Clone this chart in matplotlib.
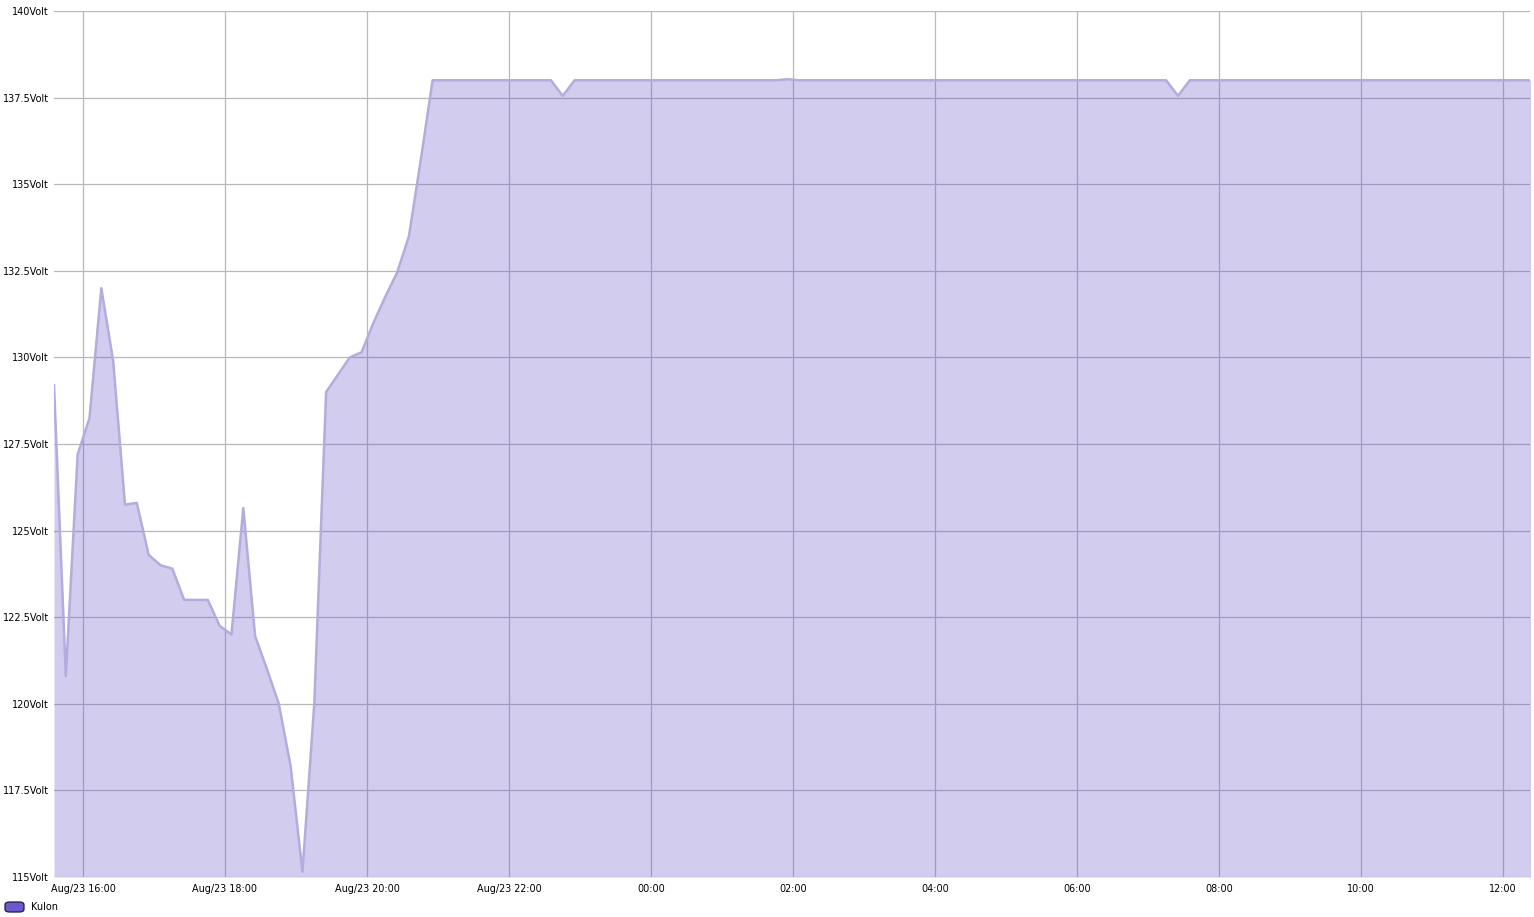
import pandas as pd
import numpy as np
import matplotlib
matplotlib.use('Agg')
import matplotlib.pyplot as plt
from matplotlib.patches import FancyBboxPatch

# 電壓讀數 (每10分鐘一筆)
volts = [
    129.2, 120.8, 127.2, 128.25, 132.0, 129.9, 125.75, 125.8, 124.3, 124.0,
    123.9, 123.0, 123.0, 123.0, 122.25, 122.0, 125.65, 121.95, 121.0, 120.0,
    118.2, 115.15, 120.0, 129.0, 129.5, 130.0, 130.15, 131.0, 131.75, 132.45,
    133.5, 135.7, 138.0, 138.0, 138.0, 138.0, 138.0, 138.0, 138.0, 138.0,
    138.0, 138.0, 138.0, 137.55, 138.0, 138.0, 138.0, 138.0, 138.0, 138.0,
    138.0, 138.0, 138.0, 138.0, 138.0, 138.0, 138.0, 138.0, 138.0, 138.0,
    138.0, 138.0, 138.03, 138.0, 138.0, 138.0, 138.0, 138.0, 138.0, 138.0,
    138.0, 138.0, 138.0, 138.0, 138.0, 138.0, 138.0, 138.0, 138.0, 138.0,
    138.0, 138.0, 138.0, 138.0, 138.0, 138.0, 138.0, 138.0, 138.0, 138.0,
    138.0, 138.0, 138.0, 138.0, 138.0, 137.55, 138.0, 138.0, 138.0, 138.0,
    138.0, 138.0, 138.0, 138.0, 138.0, 138.0, 138.0, 138.0, 138.0, 138.0,
    138.0, 138.0, 138.0, 138.0, 138.0, 138.0, 138.0, 138.0, 138.0, 138.0,
    138.0, 138.0, 138.0, 138.0, 138.0, 138.0,
]
times = pd.date_range('2023-08-23 15:35:30', periods=len(volts), freq='10min')

y_ticks = [115, 117.5, 120, 122.5, 125, 127.5, 130, 132.5, 135, 137.5, 140]
y_labels = ['115Volt', '117.5Volt', '120Volt', '122.5Volt', '125Volt', '127.5Volt',
            '130Volt', '132.5Volt', '135Volt', '137.5Volt', '140Volt']
x_ticks = pd.date_range('2023-08-23 16:00', '2023-08-24 12:00', freq='2h')
x_labels = ['Aug/23 16:00', 'Aug/23 18:00', 'Aug/23 20:00', 'Aug/23 22:00',
            '00:00', '02:00', '04:00', '06:00', '08:00', '10:00', '12:00']
series_name = 'Kulon'

W, H = 1534, 917
fig = plt.figure(figsize=(W / 100, H / 100), dpi=100)
ax = fig.add_axes([54 / W, 40 / H, (1530 - 54) / W, (877 - 11) / H])

ax.fill_between(times, volts, 115, color='#6a5acd', alpha=0.3, linewidth=0, zorder=1)
ax.plot(times, volts, color='#b3acdc', linewidth=1.8, zorder=3)

ax.set_xlim(pd.Timestamp('2023-08-23 15:35:30'), pd.Timestamp('2023-08-24 12:23:00'))
ax.set_ylim(115, 140)
ax.set_yticks(y_ticks)
ax.set_yticklabels(y_labels)
ax.set_xticks(x_ticks)
ax.set_xticklabels(x_labels)
ax.tick_params(axis='x', length=0, labelsize=6.9, colors='black', pad=5)
ax.tick_params(axis='y', length=0, labelsize=7, colors='black', pad=3.5)
ax.grid(True, color='#b8b8b8', linewidth=0.9)
ax.set_axisbelow(True)
for s in ax.spines.values():
    s.set_visible(False)

# 圖例
fig.patches.append(FancyBboxPatch((5 / W, 5 / H), 19 / W, 10 / H,
                                  boxstyle='round,pad=0,rounding_size=0.003',
                                  transform=fig.transFigure, facecolor='#6a5acd',
                                  edgecolor='#1e1a40', linewidth=0.9))
fig.text(31 / W, 10 / H, series_name, fontsize=7, va='center', ha='left')

fig.savefig('out.png', dpi=100)
